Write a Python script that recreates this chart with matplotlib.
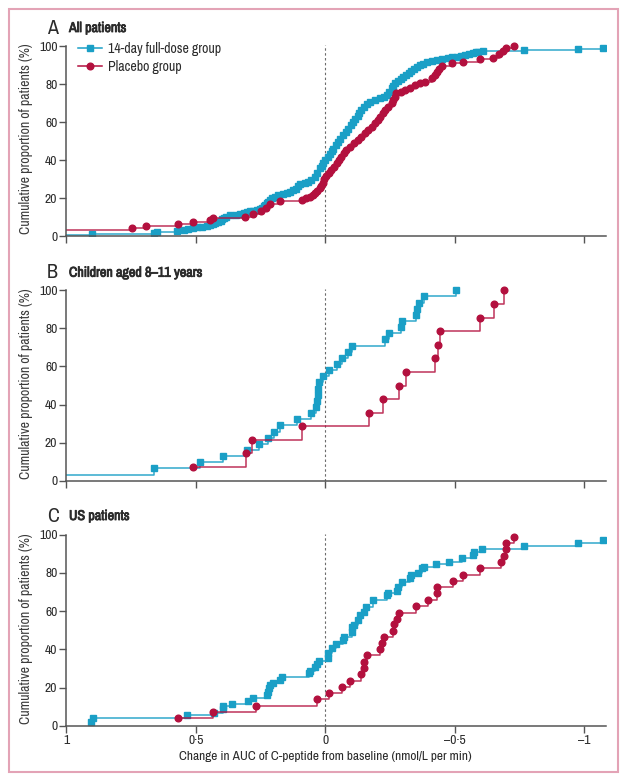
import matplotlib
matplotlib.use('Agg')
import matplotlib.pyplot as plt
import matplotlib.patheffects as pe
from matplotlib import font_manager
from matplotlib.lines import Line2D
from matplotlib.patches import Rectangle

# pick a narrow face if one is installed, otherwise Lato
entries = font_manager.fontManager.ttflist
names = {f.name for f in entries}
FAMILY, STRETCH = 'Lato' if 'Lato' in names else 'DejaVu Sans', 'normal'
cond_names = [n for n in sorted(names) if 'Narrow' in n or 'Condensed' in n]
if cond_names:
    FAMILY = cond_names[0]
else:
    for f in entries:
        if str(f.stretch) in ('condensed', 'semi-condensed') and f.name in (
                'Liberation Sans', 'DejaVu Sans', 'Open Sans', 'Roboto', 'Noto Sans'):
            FAMILY, STRETCH = f.name, 'condensed'
            break
plt.rcParams['font.family'] = [FAMILY, 'DejaVu Sans']
plt.rcParams['font.stretch'] = STRETCH


def _w(f):
    w = f.weight
    if isinstance(w, str):
        w = font_manager.weight_dict.get(w, 400)
    return w


has_bold = any(f.name == FAMILY and _w(f) >= 600 for f in entries)

BLUE = '#1a9fc6'
RED = '#b3103e'
TXT = '#2b2b2b'
AXC = '#555555'

# Panel A: all patients (marker positions)
a_full_x = [1.05, 0.90, 0.66, 0.652, 0.574, 0.545, 0.530, 0.51, 0.494, 0.475, 0.459, 0.445,
            0.433, 0.425, 0.415, 0.405, 0.398, 0.39, 0.382, 0.37, 0.345, 0.33, 0.315, 0.304,
            0.29, 0.279, 0.265, 0.253, 0.245, 0.238, 0.232, 0.226, 0.221, 0.215, 0.208, 0.195,
            0.182, 0.165, 0.15, 0.135, 0.125, 0.115, 0.105, 0.099, 0.08, 0.067, 0.055, 0.041,
            0.032, 0.022, 0.015, 0.008, 0.002, -0.008, -0.016, -0.024, -0.03, -0.04, -0.05,
            -0.058, -0.068, -0.078, -0.087, -0.097, -0.107, -0.115, -0.124, -0.131, -0.139,
            -0.15, -0.161, -0.171, -0.19, -0.21, -0.225, -0.236, -0.245, -0.255, -0.262, -0.268,
            -0.28, -0.29, -0.30, -0.31, -0.322, -0.332, -0.342, -0.352, -0.364, -0.378, -0.392,
            -0.41, -0.43, -0.45, -0.473, -0.49, -0.506, -0.522, -0.538, -0.555, -0.57, -0.58,
            -0.59, -0.607, -0.765, -0.975, -1.07]
a_full_y = [0.5, 1.0, 1.5, 2.0, 2.5, 3.0, 3.5, 4.0, 4.5, 5.0, 5.5, 6.0,
            6.5, 7.0, 7.5, 8.0, 9.0, 9.5, 10.2, 10.8, 11.2, 11.5, 12.0, 12.5,
            13.0, 13.4, 13.8, 14.3, 15.0, 15.8, 16.5, 17.3, 18.1, 19.0, 19.8, 20.6,
            21.5, 22.2, 22.8, 23.4, 24.0, 25.0, 26.2, 27.2, 28.0, 28.6, 29.6, 31.2,
            33.0, 35.6, 37.0, 38.5, 40.0, 41.5, 43.0, 44.6, 46.0, 47.8, 49.5,
            51.3, 53.2, 54.8, 56.5, 58.3, 60.2, 61.7, 63.2, 64.7, 66.3,
            67.8, 69.3, 70.7, 71.5, 72.5, 73.4, 74.4, 76.0, 77.8, 79.2, 80.4,
            81.6, 82.8, 83.8, 84.9, 85.8, 86.6, 87.8, 88.9, 90.0, 90.6, 91.4,
            92.1, 92.8, 93.2, 93.6, 94.0, 94.4, 94.7, 95.1, 95.6, 96.2, 96.6,
            97.0, 97.5, 97.9, 98.3, 98.8]
a_plac_x = [1.05, 0.746, 0.693, 0.568, 0.513, 0.446, 0.436, 0.311, 0.28, 0.25, 0.23, 0.214,
            0.176, 0.092, 0.075, 0.06, 0.048, 0.04, 0.032, 0.022, 0.016, 0.01, 0.004, -0.004,
            -0.012, -0.022, -0.032, -0.043, -0.052, -0.06, -0.07, -0.081, -0.095, -0.11,
            -0.126, -0.139, -0.152, -0.165, -0.178, -0.19, -0.203, -0.212, -0.221, -0.229,
            -0.242, -0.255, -0.262, -0.268, -0.274, -0.29, -0.306, -0.325, -0.345, -0.365,
            -0.384, -0.41, -0.422, -0.43, -0.438, -0.448, -0.49, -0.531, -0.596, -0.647,
            -0.67, -0.685, -0.696, -0.728]
a_plac_y = [3.2, 4.0, 5.1, 6.3, 7.5, 8.4, 9.5, 10.2, 11.5, 13.0, 15.0, 16.9,
            18.6, 19.1, 19.8, 20.6, 21.6, 22.6, 23.8, 25.1, 26.5, 28.0, 29.8, 31.5,
            33.0, 34.5, 36.5, 38.3, 40.0, 41.7, 43.5, 45.3, 47.0, 48.8,
            50.5, 52.3, 54.0, 55.8, 57.5, 59.3, 61.1, 62.8, 64.5, 66.3,
            68.0, 69.8, 71.5, 73.3, 75.1, 76.0, 76.8, 78.0, 79.5, 80.4,
            81.2, 83.0, 84.7, 86.5, 88.0, 89.6, 90.8, 91.7, 92.9, 93.9,
            96.0, 97.5, 99.0, 100.0]

# Panel B: children aged 8-11 years
b_full_x = [1.05, 0.663, 0.485, 0.395, 0.301, 0.257, 0.220, 0.200, 0.175, 0.110, 0.056,
            0.037, 0.032, 0.030, 0.030, 0.025, 0.011, -0.013, -0.043, -0.064, -0.088, -0.102,
            -0.229, -0.247, -0.291, -0.295, -0.349, -0.354, -0.362, -0.379, -0.503]
b_full_y = [3.2, 6.5, 9.7, 12.9, 16.1, 19.4, 22.6, 25.8, 29.0, 32.3, 35.5,
            38.7, 41.9, 45.2, 48.4, 51.6, 54.8, 58.1, 61.3, 64.5, 67.7, 71.0,
            74.2, 77.4, 80.6, 83.9, 87.1, 90.3, 93.5, 96.8, 100.0]
b_plac_x = [0.513, 0.307, 0.283, 0.091, -0.169, -0.223, -0.283, -0.311, -0.422, -0.434,
            -0.444, -0.598, -0.651, -0.688]
b_plac_y = [7.1, 14.3, 21.4, 28.6, 35.7, 42.9, 50.0, 57.1, 64.3, 71.4, 78.6, 85.7, 92.9, 100.0]

# Panel C: US patients
c_full_x = [0.905, 0.896, 0.534, 0.431, 0.397, 0.397, 0.360, 0.298, 0.279, 0.225,
            0.222, 0.219, 0.214, 0.202, 0.176, 0.166, 0.063, 0.058, 0.041, 0.034,
            0.024, -0.010, -0.011, -0.024, -0.040, -0.066, -0.070, -0.101, -0.104, -0.110,
            -0.126, -0.133, -0.148, -0.156, -0.184, -0.238, -0.240, -0.277, -0.280, -0.294,
            -0.326, -0.330, -0.358, -0.371, -0.380, -0.425, -0.476, -0.527, -0.570, -0.572,
            -0.606, -0.765, -0.976, -1.071]
c_full_y = [2.1, 4.0, 5.6, 6.9, 8.6, 10.3, 11.4, 13.1, 14.3, 16.1,
            17.8, 19.5, 21.2, 22.5, 23.9, 25.7, 27.4, 28.8, 30.6, 32.3,
            33.7, 35.3, 37.9, 40.5, 42.6, 44.9, 46.6, 49.2, 51.6, 52.7,
            55.3, 58.0, 59.7, 62.3, 65.8, 68.4, 69.3, 70.5, 72.8, 75.4,
            77.5, 78.9, 80.1, 82.4, 83.3, 84.5, 85.9, 87.6, 89.4, 91.1,
            92.5, 94.2, 95.8, 97.2]
c_plac_x = [0.568, 0.436, 0.270, 0.034, -0.012, -0.062, -0.094, -0.139, -0.148, -0.149,
            -0.159, -0.210, -0.217, -0.227, -0.261, -0.265, -0.277, -0.283, -0.351, -0.396,
            -0.429, -0.432, -0.493, -0.531, -0.598, -0.676, -0.688, -0.696, -0.697, -0.728]
c_plac_y = [4.0, 7.2, 10.3, 13.8, 17.0, 20.4, 23.6, 26.9, 30.4, 33.5,
            37.0, 40.2, 43.3, 46.6, 49.6, 53.1, 56.0, 59.2, 62.8, 66.0,
            69.3, 72.6, 75.8, 78.9, 82.4, 85.5, 88.8, 92.3, 95.5, 98.6]

x_ticks = [1, 0.5, 0, -0.5, -1]
x_tick_labels = ['1', '0\u00b75', '0', '\u20130\u00b75', '\u20131']
y_ticks = [0, 20, 40, 60, 80, 100]
group_labels = ['14-day full-dose group', 'Placebo group']
ylab = 'Cumulative proportion of patients (%)'
xlab = 'Change in AUC of C-peptide from baseline (nmol/L per min)'

panels = [
    ('A', 'All patients', a_full_x, a_full_y, a_plac_x, a_plac_y),
    ('B', 'Children aged 8\u201311 years', b_full_x, b_full_y, b_plac_x, b_plac_y),
    ('C', 'US patients', c_full_x, c_full_y, c_plac_x, c_plac_y),
]

fig = plt.figure(figsize=(6.26, 7.81), dpi=100)
W, H = 626.0, 781.0
renderer = fig.canvas.get_renderer()


def fit_size(s, target_px, weight='normal'):
    # font size that makes string s about target_px wide
    t = fig.text(0, 0, s, fontsize=10, fontweight=weight)
    w = t.get_window_extent(renderer).width
    t.remove()
    return 10 * target_px / w


fs_ylab = fit_size(ylab, 190)
fs_xlab = fit_size(xlab, 294)
fs_leg = fit_size(group_labels[0], 113)
fs_title = fit_size('All patients', 58, 'bold')
fs_tick = fit_size('100', 18.5)
fs_letter = fs_ylab * 1.45

# pixel geometry of each panel: (y of zero line, pixels per percent, title y)
geom = [(236.0, 1.90, 28.0), (480.7, 1.904, 272.7), (725.7, 1.91, 516.0)]
left_px, right_px = 66.4, 606.0
title_fx = [] if has_bold else [pe.withStroke(linewidth=0.6, foreground=TXT)]

for i, (letter, title, fx, fy, px_, py_) in enumerate(panels):
    y0, ppu, ty = geom[i]
    ax = fig.add_axes([left_px / W, 1 - y0 / H, (right_px - left_px) / W, 102 * ppu / H])
    ax.set_xlim(1, -1.083)
    ax.set_ylim(0, 102)

    ax.axvline(0, ymin=0, ymax=100.6 / 102, color='#6b6b6b', lw=0.8, ls=(0, (2.2, 2.2)))

    ax.step(fx, fy, where='post', color=BLUE, lw=1.1, alpha=0.9)
    ax.plot(fx, fy, ls='none', marker='s', ms=4.2, color=BLUE, mec=BLUE)
    ax.step(px_, py_, where='post', color=RED, lw=1.1, alpha=0.85)
    ax.plot(px_, py_, ls='none', marker='o', ms=4.8, color=RED, mec=RED)

    for s in ['top', 'right']:
        ax.spines[s].set_visible(False)
    ax.spines['left'].set_bounds(0, 100)
    for s in ['left', 'bottom']:
        ax.spines[s].set_color(AXC)
        ax.spines[s].set_linewidth(1.1)
    ax.set_yticks(y_ticks)
    ax.set_xticks(x_ticks)
    ax.tick_params(direction='out', length=5, width=1, color=AXC, labelcolor=TXT,
                   labelsize=fs_tick, pad=1.5)
    if i < 2:
        ax.set_xticklabels([])
    else:
        ax.set_xticklabels(x_tick_labels)
        ax.set_xlabel(xlab, fontsize=fs_xlab, color=TXT)
        ax.xaxis.set_label_coords(0.479, -0.128)
    ax.set_ylabel(ylab, fontsize=fs_ylab, color='#3a3a3a')
    ax.yaxis.set_label_coords(-0.061, 0.50)

    fig.text(47 / W, 1 - ty / H, letter, fontsize=fs_letter, color=TXT, va='center', ha='left')
    fig.text(69 / W, 1 - ty / H, title, fontsize=fs_title, fontweight='bold', color=TXT,
             va='center', ha='left', path_effects=title_fx)

    if i == 0:
        handles = [Line2D([], [], color=BLUE, marker='s', ms=4.2, lw=1.1),
                   Line2D([], [], color=RED, marker='o', ms=4.8, lw=1.1)]
        ax.legend(handles, group_labels, loc='upper left', bbox_to_anchor=(0.012, 1.03),
                  frameon=False, fontsize=fs_leg, handlelength=1.7, handletextpad=0.4,
                  labelspacing=0.3, borderaxespad=0, labelcolor=TXT)

fig.add_artist(Rectangle((8.5 / W, 1 - 772 / H), 609.5 / W, 763.5 / H,
                         transform=fig.transFigure, fill=False, ec='#e3a3b6', lw=1.5))

fig.savefig('out.png', dpi=100)
